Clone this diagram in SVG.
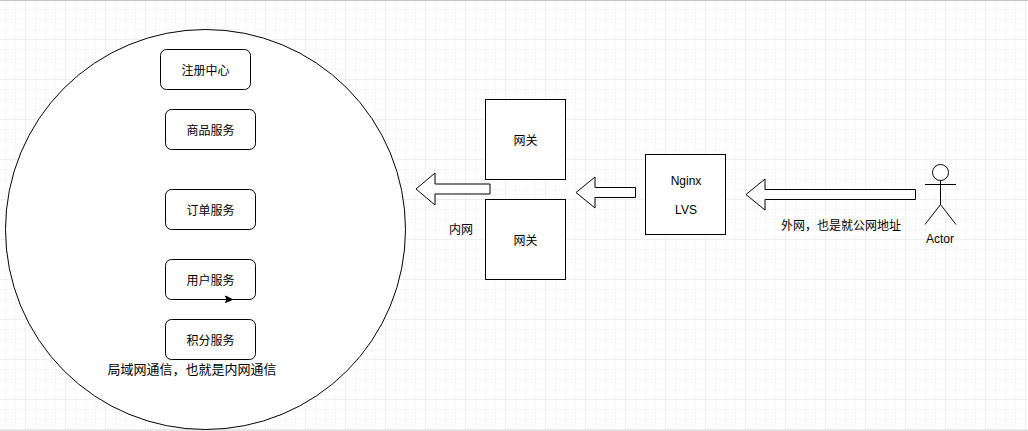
<svg xmlns="http://www.w3.org/2000/svg" width="1028" height="431" viewBox="0 0 1028 431">
<style>
text{font-family:"Liberation Sans","Noto Sans CJK SC",sans-serif;font-size:12px;fill:#000;text-anchor:middle}
.s{fill:#fff;stroke:#000;stroke-width:1}
.n{fill:none;stroke:#000;stroke-width:1}
</style>
<defs>
<pattern id="minor" x="5" y="9" width="10" height="10" patternUnits="userSpaceOnUse"><path d="M.5 0V10M0 .5H10" fill="none" stroke="#f8f8f8" stroke-width="1"/></pattern>
<pattern id="major" x="25" y="39" width="40" height="40" patternUnits="userSpaceOnUse"><path d="M.5 0V40M0 .5H40" fill="none" stroke="#eeeeee" stroke-width="1"/></pattern>
</defs>
<g id="background">
<rect width="1028" height="431" fill="#fff"/>
<rect width="1028" height="431" fill="url(#minor)"/>
<rect width="1028" height="431" fill="url(#major)"/>
<rect width="1028" height="1" fill="#c4c4c4"/>
<rect y="429" width="1028" height="2" fill="#e6e6e6"/>
</g>
<g id="lan"><circle class="s" cx="205.5" cy="229.5" r="200"/></g>
<g id="registry"><rect class="s" x="160.5" y="49.5" width="90" height="40" rx="6"/><text x="205.5" y="74.500">注册中心</text></g>
<g id="product"><rect class="s" x="165.5" y="109.5" width="90" height="40" rx="6"/><text x="210.5" y="134.500">商品服务</text></g>
<g id="order"><rect class="s" x="165.5" y="189.5" width="90" height="40" rx="6"/><text x="210.5" y="214.500">订单服务</text></g>
<g id="user"><rect class="s" x="165.5" y="259.5" width="90" height="40" rx="6"/><text x="210.5" y="284.500">用户服务</text></g>
<g id="points"><rect class="s" x="165.5" y="319.5" width="90" height="40" rx="6"/><text x="210.5" y="344.500">积分服务</text></g>
<g id="gateway1"><rect class="s" x="485.5" y="99.5" width="80" height="80"/><text x="525.5" y="144.500">网关</text></g>
<g id="gateway2"><rect class="s" x="485.5" y="199.5" width="80" height="80"/><text x="525.5" y="244.500">网关</text></g>
<g id="nginx"><rect class="s" x="645.5" y="154.5" width="80" height="80"/><text x="686" y="184.500">Nginx</text><text x="686" y="213.500">LVS</text></g>
<g id="actor">
<circle class="s" cx="940.5" cy="172.5" r="8"/>
<path class="n" d="M940.5 180.5V204.5M925 184.5H956M940.5 204.5L925 224.5M940.5 204.5L956 224.5"/>
<text x="940" y="243">Actor</text>
</g>
<g id="connectors">
<path class="s" d="M490 184H435V173L416 189L435 205V194H490Z"/>
<path class="s" d="M635.5 187.5H595V177L576 192.5L595 208V197.5H635.5Z"/>
<path class="s" d="M915.5 189.5H765V179L746 194.5L765 210V199.5H915.5Z"/>
<path d="M225.500 296L232.500 299.500L225.500 302.500L227 299.500Z" fill="#000" stroke="#000" stroke-width="1"/>
</g>
<g id="labels">
<text x="192" y="374" style="font-size:13px">局域网通信，也就是内网通信</text>
<text x="461" y="233.500">内网</text>
<text x="841" y="229.500">外网，也是就公网地址</text>
</g>
</svg>
